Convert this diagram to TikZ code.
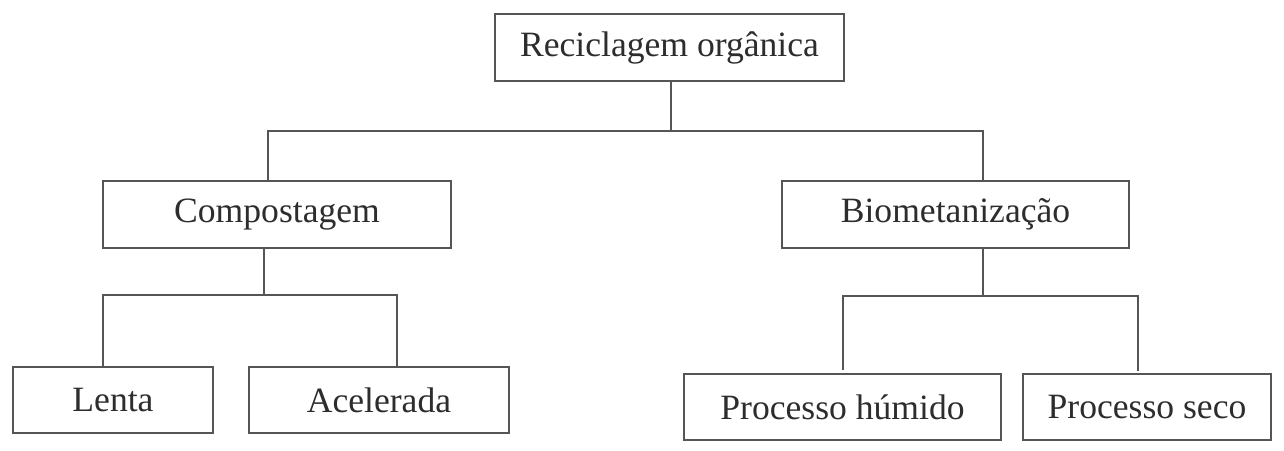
\documentclass[tikz,border=0pt]{standalone}
\usepackage{fontspec}
\setmainfont{Liberation Serif}
\definecolor{linec}{RGB}{85,85,85}
\definecolor{textc}{RGB}{45,45,45}
\begin{document}
\begin{tikzpicture}[x=1pt,y=-1pt,
  box/.style={draw=linec, line width=2pt, rectangle, inner sep=0pt, outer sep=0pt,
    text=textc, font=\fontsize{35.6}{40}\selectfont},
  conn/.style={draw=linec, line width=2pt}]
\fill[white] (0,0) rectangle (1284,450);
\useasboundingbox (0,0) rectangle (1284,450);
\node[box, minimum width=349pt, minimum height=67pt] (top) at (669.5,47.5) {Reciclagem orgânica};
\node[box, minimum width=348pt, minimum height=67pt] (comp) at (277,214.5) {Compostagem};
\node[box, minimum width=347pt, minimum height=67pt] (bio) at (955.5,214.5) {Biometanização};
\node[box, minimum width=200pt, minimum height=66pt] (lenta) at (113,400) {Lenta};
\node[box, minimum width=260pt, minimum height=66pt] (acel) at (379,400) {Acelerada};
\node[box, minimum width=317pt, minimum height=66pt] (hum) at (842.5,407) {Processo húmido};
\node[box, minimum width=248pt, minimum height=66pt] (seco) at (1147,407) {Processo seco};
\coordinate (j1) at (671,131);
\coordinate (jL) at (268,131);
\coordinate (jR) at (983,131);
\coordinate (j2) at (264,295);
\coordinate (kL) at (103,295);
\coordinate (kR) at (397,295);
\coordinate (j3) at (983,296);
\coordinate (mL) at (843,296);
\coordinate (mR) at (1138,296);
\draw[conn] (top.south -| j1) -- (j1);
\draw[conn] (comp.north -| jL) -- (jL) -- (jR) -- (bio.north -| jR);
\draw[conn] (comp.south -| j2) -- (j2);
\draw[conn] (lenta.north -| kL) -- (kL) -- (kR) -- (acel.north -| kR);
\draw[conn] (bio.south -| j3) -- (j3);
\draw[conn, shorten <=4pt, shorten >=3pt] (hum.north -| mL) -- (mL) -- (mR) -- (seco.north -| mR);
\end{tikzpicture}
\end{document}
